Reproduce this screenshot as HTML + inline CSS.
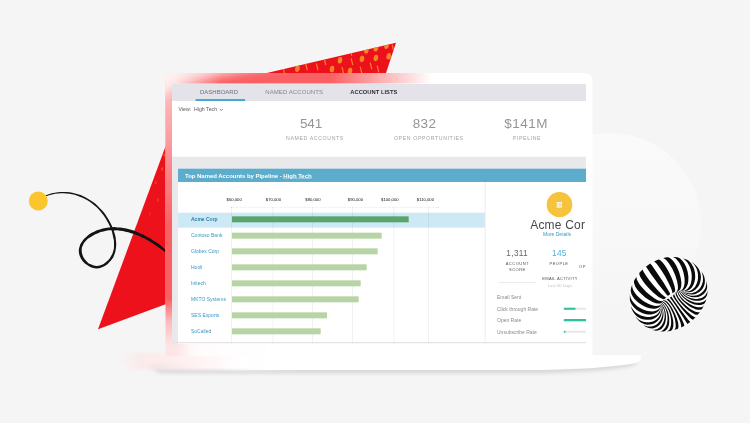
<!DOCTYPE html>
<html lang="en">
<head>
<meta charset="utf-8">
<title>Account Dashboard</title>
<style>
html,body{margin:0;padding:0;}
body{width:750px;height:423px;overflow:hidden;background:#f5f5f5;position:relative;font-family:"Liberation Sans",sans-serif;}
.abs{position:absolute;}
#screen{will-change:transform;}
#art-back,#art-front{position:absolute;left:0;top:0;width:750px;height:423px;}
#screen{position:absolute;left:172px;top:83.5px;width:414px;height:259.5px;background:#e9e9ec;overflow:hidden;}
#nav{position:absolute;left:0;top:0;width:1242px;height:51px;background:#e3e3e9;}
.tab{position:absolute;top:13.8px;font-size:18px;letter-spacing:0;color:#6f717c;white-space:nowrap;line-height:21px;}
#tab-ul{position:absolute;left:70.5px;top:45px;width:148.5px;height:6px;background:#45a9d6;}
#stats{position:absolute;left:0;top:51px;width:1242px;height:166.5px;background:#fff;}
.num{position:absolute;top:43.5px;font-size:40.5px;letter-spacing:3px;color:#959595;white-space:nowrap;line-height:48px;transform:translateX(-50%);}
.lab{position:absolute;top:100.8px;font-size:15.6px;letter-spacing:1.86px;color:#a3a3a3;white-space:nowrap;line-height:21px;transform:translateX(-50%);}
#panel{position:absolute;left:18px;top:253.5px;width:1224px;height:525px;background:#fff;}
#phead{position:absolute;left:0;top:0;width:1224px;height:40.5px;background:#5caccb;}
#phead span{position:absolute;left:21px;top:9px;font-size:18px;font-weight:bold;color:#fff;letter-spacing:-0.12px;white-space:nowrap;line-height:24px;}
.ax{position:absolute;top:85.5px;font-size:12.6px;color:#111;white-space:nowrap;line-height:18px;transform:translateX(-50%);}
.grid{position:absolute;top:114px;width:3px;height:411px;background:rgba(0,0,0,.05);}
#sel{position:absolute;left:0;top:132px;width:921px;height:45px;background:#cde9f5;}
.row{position:absolute;left:39px;font-size:15px;color:#3b98bd;white-space:nowrap;line-height:21px;}
.bar{position:absolute;left:162px;height:18px;background:#b7d4a5;}
#divider{position:absolute;left:919.5px;top:40.5px;width:3px;height:486px;background:#ececec;}

#rp{position:absolute;left:924px;top:40.5px;width:300px;height:484.5px;overflow:hidden;}
#rp span{position:absolute;white-space:nowrap;}
#avatar{position:absolute;left:182.4px;top:30.3px;width:76.2px;height:76.2px;border-radius:50%;background:#f6c33f;}
.ctr{transform:translateX(-50%);}
.sm{font-size:12.3px;letter-spacing:1.35px;color:#555;line-height:15px;}
.em{font-size:15px;color:#8a8a8a;line-height:18px;left:33px;}
.trk{position:absolute;left:233.4px;width:90px;height:6.6px;background:#e8e8e8;border-radius:3px;}
.trk i{position:absolute;left:0;top:0;height:6.6px;background:#2cc09c;border-radius:3px;display:block;}
</style>
</head>
<body>
<svg id="art-back" viewBox="0 0 750 423">
  <defs>
    <linearGradient id="cg" x1="0" y1="0" x2="0" y2="1">
      <stop offset="0" stop-color="#fafafa"/><stop offset="0.55" stop-color="#f8f8f8"/><stop offset="1" stop-color="#f5f5f5"/>
    </linearGradient>
  </defs>
  <circle cx="610" cy="224" r="91" fill="url(#cg)"/>
  <defs>
    <clipPath id="triclip"><polygon points="98,329.3 185.6,92 396,42.7 329.7,243.6"/></clipPath>
    <linearGradient id="pmg" x1="330" y1="50" x2="125" y2="235" gradientUnits="userSpaceOnUse">
      <stop offset="0" stop-color="#fff" stop-opacity="1"/><stop offset="0.45" stop-color="#fff" stop-opacity=".9"/><stop offset="1" stop-color="#fff" stop-opacity="0"/>
    </linearGradient>
    <mask id="patmask" maskUnits="userSpaceOnUse" x="0" y="0" width="750" height="423"><rect width="750" height="423" fill="url(#pmg)"/></mask>
  </defs>
  <polygon points="98,329.3 185.6,92 396,42.7 329.7,243.6" fill="#ec111a"/>
  <!--PATTERN--><g clip-path="url(#triclip)" mask="url(#patmask)"><g fill="#f6842a"><ellipse cx="340.0" cy="60.2" rx="2.3" ry="3.3" transform="rotate(8 340.0 60.2)"/><ellipse cx="362.0" cy="58.9" rx="2.3" ry="3.3" transform="rotate(8 362.0 58.9)"/><ellipse cx="375.9" cy="58.0" rx="2.3" ry="3.3" transform="rotate(8 375.9 58.0)"/><ellipse cx="388.7" cy="56.3" rx="2.3" ry="3.3" transform="rotate(8 388.7 56.3)"/><ellipse cx="297.4" cy="68.7" rx="2.3" ry="3.3" transform="rotate(8 297.4 68.7)"/><ellipse cx="332.0" cy="69.1" rx="2.3" ry="3.3" transform="rotate(8 332.0 69.1)"/><ellipse cx="366.3" cy="50.4" rx="2.3" ry="3.3" transform="rotate(8 366.3 50.4)"/><ellipse cx="375.9" cy="48.2" rx="2.3" ry="3.3" transform="rotate(8 375.9 48.2)"/><ellipse cx="386.5" cy="45.7" rx="2.3" ry="3.3" transform="rotate(8 386.5 45.7)"/><ellipse cx="350.0" cy="71.0" rx="2.3" ry="3.3" transform="rotate(8 350.0 71.0)"/><ellipse cx="162.1" cy="169.0" rx="1.2" ry="1.7"/><ellipse cx="155.8" cy="182.9" rx="1.2" ry="1.7"/><ellipse cx="164.5" cy="155.0" rx="1.2" ry="1.7"/><ellipse cx="158.0" cy="200.0" rx="1.2" ry="1.7"/><ellipse cx="150.0" cy="214.0" rx="1.2" ry="1.7"/></g><path d="M351.3 58.8l1.4 5.8M305.8 64.1l1.4 5.8M316.5 64.1l1.4 5.8M324.3 58.8l1.4 5.8M342.1 67.3l1.4 5.8M360.3 67.1l1.4 5.8M377.3 66.1l1.4 5.8M283.3 68.4l1.4 5.8M350.3 49.6l1.4 5.8M370.3 63.1l1.4 5.8M392.3 45.1l1.4 5.8" stroke="#f6842a" stroke-width="1.2" stroke-linecap="round" fill="none"/></g><!--/PATTERN-->
  <!--SQUIGGLE--><path d="M46.2 196.2 49.1 195.2 52.1 194.4 55.0 193.8 57.9 193.5 60.8 193.3 63.6 193.3 66.5 193.4 69.3 193.8 72.0 194.2 74.7 194.8 77.3 195.7 79.9 196.7 82.5 197.8 85.0 199.0 87.4 200.3 89.8 201.8 92.1 203.4 94.2 205.3 96.4 207.1 98.4 209.1 100.3 211.2 102.1 213.5 103.9 215.8 105.5 218.2 107.0 220.7 108.4 223.3 109.7 226.0 110.9 228.8 111.9 231.6 112.6 234.5 113.2 237.4 113.9 240.2 114.0 243.0 114.0 245.8 113.9 248.6 113.2 251.2 112.4 253.7 111.1 256.1 109.7 258.4 107.9 260.6 105.8 262.3 103.6 263.9 101.3 265.1 98.8 265.7 96.3 265.9 93.8 265.6 91.3 264.6 88.8 263.4 86.7 261.6 84.9 259.5 83.4 257.2 82.4 254.8 81.8 252.3 81.7 249.8 81.9 247.4 83.0 245.1 84.1 242.8 85.9 240.8 87.8 238.8 90.3 237.2 92.8 235.7 95.3 234.2 98.0 233.2 100.6 232.1 103.4 231.4 106.1 230.8 108.9 230.3 111.6 230.3 114.4 230.4 117.2 230.2 120.0 230.7 122.8 231.0 125.5 231.7 128.3 232.3 131.1 233.2 133.8 234.1 136.5 235.1 139.3 236.1 141.9 237.5 144.6 238.6 147.1 240.1 149.6 241.6 152.1 243.0 154.5 244.6 156.8 246.3 159.1 247.8 161.4 249.4 163.6 251.0 165.6 252.9 167.2 250.9 165.1 249.3 163.0 247.4 160.8 245.6 158.6 243.8 156.1 242.2 153.6 240.7 151.1 239.0 148.5 237.5 145.8 236.2 143.3 234.6 140.4 233.5 137.7 232.2 134.9 231.1 132.0 230.1 129.1 229.3 126.3 228.5 123.3 228.1 120.4 227.5 117.4 227.4 114.5 227.1 111.5 227.3 108.6 227.6 105.6 227.9 102.7 228.6 99.8 229.5 96.9 230.3 94.1 231.7 91.3 233.1 88.6 234.8 86.2 236.9 83.9 239.0 82.1 241.4 80.4 243.9 79.5 246.7 78.8 249.6 78.9 252.7 79.6 255.7 80.9 258.6 82.7 261.3 84.9 263.5 87.5 265.3 90.2 267.0 93.2 268.0 96.2 268.4 99.2 268.2 102.1 267.3 104.8 266.0 107.4 264.3 109.5 262.1 111.6 259.8 113.3 257.3 114.4 254.5 115.3 251.7 115.8 248.9 116.2 245.9 116.2 242.9 115.9 239.9 115.6 236.9 114.8 233.9 113.8 231.0 112.7 228.0 111.6 225.2 110.2 222.4 108.7 219.7 107.1 217.2 105.4 214.6 103.7 212.2 101.7 210.0 99.6 207.9 97.5 205.8 95.4 203.8 93.0 202.1 90.7 200.4 88.3 198.9 85.8 197.5 83.2 196.2 80.6 195.1 77.9 194.2 75.1 193.5 72.3 192.8 69.5 192.3 66.6 192.1 63.7 191.9 60.7 192.0 57.8 192.3 54.8 192.8 51.8 193.3 48.8 194.2 45.8 195.2Z" fill="#141414"/><!--/SQUIGGLE-->
  <circle cx="38.3" cy="201" r="9.5" fill="#fbc52d"/>

  <!--LAPTOP-->
  <defs>
    <filter id="b5" x="-20%" y="-20%" width="140%" height="140%"><feGaussianBlur stdDeviation="6"/></filter>
    <filter id="b12" x="-30%" y="-100%" width="160%" height="300%"><feGaussianBlur stdDeviation="10"/></filter>
    <filter id="b2" x="-10%" y="-40%" width="120%" height="180%"><feGaussianBlur stdDeviation="1.6"/></filter>
    <linearGradient id="bg2" x1="215" y1="0" x2="265" y2="0" gradientUnits="userSpaceOnUse"><stop offset="0" stop-color="#fff" stop-opacity="0"/><stop offset="1" stop-color="#fff"/></linearGradient>
    <linearGradient id="bzg" x1="166" y1="0" x2="275" y2="0" gradientUnits="userSpaceOnUse"><stop offset="0" stop-color="#f8393e" stop-opacity=".16"/><stop offset="1" stop-color="#f8393e" stop-opacity="0"/></linearGradient>
    <radialGradient id="lsg" cx="0" cy="0" r="1" gradientUnits="userSpaceOnUse" gradientTransform="translate(166 76) scale(55 150)"><stop offset="0" stop-color="#fff" stop-opacity=".66"/><stop offset=".45" stop-color="#fff" stop-opacity=".4"/><stop offset="1" stop-color="#fff" stop-opacity="0"/></radialGradient>
    <linearGradient id="tlg" x1="160" y1="0" x2="285" y2="0" gradientUnits="userSpaceOnUse"><stop offset="0" stop-color="#f8393e" stop-opacity=".2"/><stop offset=".35" stop-color="#f8393e" stop-opacity=".2"/><stop offset="1" stop-color="#f8393e" stop-opacity="0"/></linearGradient>
    <filter id="sh" x="-5%" y="-50%" width="110%" height="250%"><feGaussianBlur stdDeviation="2.2"/></filter>
    <clipPath id="ringclip"><path clip-rule="evenodd" d="M165.5 356V80a7 7 0 0 1 7-7H585.5a7 7 0 0 1 7 7V356ZM172 83.5H586V343H172Z"/></clipPath>
    <clipPath id="baseclip"><path d="M110 354H642V372H110Z"/></clipPath>
    <linearGradient id="fx" x1="330" y1="0" x2="432" y2="0" gradientUnits="userSpaceOnUse">
      <stop offset="0" stop-color="#fff" stop-opacity="1"/><stop offset="1" stop-color="#fff" stop-opacity="0"/>
    </linearGradient>
    <linearGradient id="fy" x1="0" y1="298" x2="0" y2="346" gradientUnits="userSpaceOnUse">
      <stop offset="0" stop-color="#fff" stop-opacity="1"/><stop offset=".5" stop-color="#fff" stop-opacity=".42"/><stop offset="1" stop-color="#fff" stop-opacity=".16"/>
    </linearGradient>
    <mask id="mx" maskUnits="userSpaceOnUse" x="0" y="0" width="750" height="423"><rect x="0" y="0" width="750" height="423" fill="url(#fx)"/></mask>
    <mask id="my" maskUnits="userSpaceOnUse" x="0" y="0" width="750" height="423"><rect x="0" y="0" width="750" height="423" fill="url(#fy)"/></mask>
    <linearGradient id="bg1" x1="117" y1="0" x2="300" y2="0" gradientUnits="userSpaceOnUse">
      <stop offset="0" stop-color="#fbe3e3" stop-opacity="0"/><stop offset="0.14" stop-color="#fde6e6" stop-opacity=".7"/><stop offset="0.45" stop-color="#fff4f4"/><stop offset="0.7" stop-color="#fff"/><stop offset="1" stop-color="#fff" stop-opacity="0"/>
    </linearGradient>
  </defs>
  <!-- base shadow -->
  <path d="M146 364H560Q610 363 636 358Q640 364 628 366.5Q595 372 540 373H160Z" fill="#000" opacity=".13" filter="url(#sh)"/>
  <!-- base -->
  <path d="M116 353H310V370H140Q119 370 116 353Z" fill="url(#bg1)" filter="url(#b2)"/>
  <path d="M215 355H641V357.5Q641 362.5 631 364Q595 369.3 540 370H215Z" fill="url(#bg2)"/>
  <!-- frame -->
  <path d="M165.5 356V80a7 7 0 0 1 7-7H585.5a7 7 0 0 1 7 7V356Z" fill="#fff"/>
  <g clip-path="url(#ringclip)"><g mask="url(#mx)"><g mask="url(#my)">
    <rect x="160" y="66" width="125" height="120" fill="url(#tlg)"/><rect x="160" y="340" width="120" height="20" fill="url(#bzg)"/><polygon points="150,370 150,100 187,82 265,66 340,52 440,52 440,110 185,110 185,370" fill="#f8393e" filter="url(#b5)" opacity=".8"/>
  </g></g><rect x="160" y="70" width="70" height="160" fill="url(#lsg)"/></g>
  <!--/LAPTOP-->
</svg>


<div id="screen">
<div id="s3" style="position:absolute;left:0;top:0;width:1242px;height:780px;transform:scale(0.333333);transform-origin:0 0">
  <div id="nav">
    <span class="tab" style="left:84px">DASHBOARD</span>
    <span class="tab" style="left:279.9px;letter-spacing:0.24px;color:#85878f">NAMED ACCOUNTS</span>
    <span class="tab" style="left:534.9px;color:#2f2f35;font-weight:bold;font-size:17.4px;letter-spacing:0">ACCOUNT LISTS</span>
    <div id="tab-ul"></div>
  </div>
  <div id="stats">
    <span class="abs" style="left:19.5px;top:16.2px;font-size:15.6px;color:#5a5a5a;line-height:18px;white-space:nowrap">View:&nbsp; High Tech</span><svg class="abs" style="left:141.9px;top:22.2px" width="12" height="9" viewBox="0 0 4 3"><path d="M.5 .7L2 2.2L3.5 .7" fill="none" stroke="#555" stroke-width=".7"/></svg>
    <span class="num" style="left:417px;letter-spacing:-0.6px">541</span><span class="lab" style="left:429px">NAMED ACCOUNTS</span>
    <span class="num" style="left:757.5px;letter-spacing:0.99px">832</span><span class="lab" style="left:770.4px">OPEN OPPORTUNITIES</span>
    <span class="num" style="left:1062.6px;letter-spacing:1.5px">$141M</span><span class="lab" style="left:1065px">PIPELINE</span>
  </div>
  <div id="panel">
    <div id="phead"><span>Top Named Accounts by Pipeline - <u>High Tech</u></span></div>
    <span class="ax" style="left:168.6px">$60,000</span>
    <span class="ax" style="left:286.2px">$70,000</span>
    <span class="ax" style="left:404.7px">$80,000</span>
    <span class="ax" style="left:532.2px">$90,000</span>
    <span class="ax" style="left:635.4px">$100,000</span>
    <span class="ax" style="left:742.2px">$110,000</span>
    <div id="sel"></div>
    <div class="abs" style="left:159px;top:115.5px;width:624px;height:0;border-top:2.4px dotted #dcdcdc"></div>
    <div class="grid" style="left:159px"></div>
    <div class="grid" style="left:282.6px"></div>
    <div class="grid" style="left:402.3px"></div>
    <div class="grid" style="left:521.7px"></div>
    <div class="grid" style="left:645.6px"></div>
    <div class="grid" style="left:749.7px"></div>
    <span class="row" style="top:140.1px;font-weight:bold;color:#2a7fa8">Acme Corp</span><div class="bar" style="top:143.7px;width:529.5px;background:#5aa56c"></div>
    <span class="row" style="top:188.1px">Contoso Bank</span><div class="bar" style="top:192.3px;width:448.5px"></div>
    <span class="row" style="top:236.1px">Globex Corp</span><div class="bar" style="top:239.7px;width:436.5px"></div>
    <span class="row" style="top:284.1px">Hooli</span><div class="bar" style="top:287.7px;width:404.4px"></div>
    <span class="row" style="top:332.1px">Initech</span><div class="bar" style="top:335.7px;width:386.4px"></div>
    <span class="row" style="top:380.1px">MKTO Systems</span><div class="bar" style="top:383.7px;width:380.4px"></div>
    <span class="row" style="top:428.1px">SES Exports</span><div class="bar" style="top:431.7px;width:284.7px"></div>
    <span class="row" style="top:476.1px">SoCalled</span><div class="bar" style="top:479.7px;width:265.8px"></div>
    <div id="divider"></div>
    <div id="rp">
      <div id="avatar"><svg width="76.2" height="76.2" viewBox="0 0 25.4 25.4"><path d="M9.9 10.5h5.6M9.9 15.1h5.6" stroke="#fff" stroke-width=".9" fill="none"/><path d="M10.5 11v3.8M11.9 11v3.8M13.3 11v3.8M14.7 11v3.8" stroke="#fff" stroke-width=".8" fill="none"/></svg></div>
      <span id="acme" style="left:132.6px;top:107.1px;width:164.7px;overflow:hidden;font-size:36px;color:#484848;line-height:42px;letter-spacing:0.6px">Acme Corp</span>
      <span class="ctr" style="left:213px;top:149.4px;font-size:15px;color:#3a9cc2;line-height:18px">More Details</span>
      <span class="ctr" style="left:93.6px;top:197.4px;font-size:24.9px;color:#666;line-height:30px;letter-spacing:0.9px">1,311</span>
      <span class="ctr" style="left:220.2px;top:197.4px;font-size:24.9px;color:#5ab0d2;line-height:30px;letter-spacing:0.9px">145</span>
      <span class="ctr sm" style="left:94.2px;top:238.5px">ACCOUNT</span>
      <span class="ctr sm" style="left:94.2px;top:256.5px">SCORE</span>
      <span class="ctr sm" style="left:219px;top:238.5px">PEOPLE</span>
      <span class="sm" style="left:279px;top:248.1px">OPPS</span>
      <div class="abs" style="left:38.1px;top:301.2px;width:112.5px;height:1.8px;background:#e2e2e2"></div>
      <span class="ctr sm" style="left:222px;top:284.4px;letter-spacing:0.9px">EMAIL ACTIVITY</span>
      <span class="ctr" style="left:222px;top:303.6px;font-size:12.6px;color:#c4c4c4;line-height:15px">Last 30 Days</span>
      <span class="em" style="top:337.8px">Email Sent</span>
      <span class="em" style="top:372.9px">Click through Rate</span><div class="trk" style="top:376.8px"><i style="width:35.7px"></i></div>
      <span class="em" style="top:406.8px">Open Rate</span><div class="trk" style="top:411px"><i style="width:78px"></i></div>
      <span class="em" style="top:441.3px">Unsubscribe Rate</span><div class="trk" style="top:445.5px"><i style="width:5.7px"></i></div>
    </div>

  </div>
</div>
</div>
<div class="abs" style="left:172px;top:342.3px;width:414px;height:.8px;background:#e3e3e3"></div>
<svg id="art-front" viewBox="0 0 750 423">
<!--TORUS--><g id="torus"><path d="M686.8 259.6 683.4 258.4 681.0 257.7 677.4 257.1 674.6 256.9 670.9 256.9 666.9 257.3 663.9 257.8 659.4 259.1 656.1 260.4 652.6 262.1 649.3 264.1 646.1 266.4 642.6 269.4 640.1 271.9 638.1 274.4 635.5 278.1 633.2 282.4 632.2 284.9 631.0 288.4 630.4 291.2 629.8 295.9 629.8 299.4 630.5 304.9 631.4 308.0 632.7 311.6 634.1 314.4 635.8 317.1 637.9 319.8 640.4 322.5 643.1 324.8 645.7 326.6 648.8 328.3 652.1 329.7 655.4 330.7 659.7 331.4 661.8 331.5 667.2 331.4 670.9 330.8 675.4 329.7 679.6 328.2 683.9 326.1 687.1 324.2 690.6 321.7 694.6 318.3 697.2 315.7 699.3 313.2 702.0 309.2 703.2 307.1 705.1 302.9 706.2 299.8 707.1 296.0 707.5 292.4 707.5 288.6 707.0 284.6 706.1 281.0 704.9 277.7 703.4 274.5 701.3 271.2 699.0 268.4 696.2 265.6 693.4 263.3 690.1 261.2ZM676.4 291.5 674.9 293.5 672.9 295.5 670.9 297.1 666.7 299.5 664.1 300.5 663.2 300.6 665.8 297.7 669.0 295.0 672.8 292.7 675.7 291.5Z" fill="#fff"/><path d="M660.7 305.6 660.6 305.7 661.2 308.6 661.1 311.2 660.4 314.0 659.6 315.7 658.2 317.7 656.9 319.0 655.3 320.2 652.9 321.4 650.7 322.0 649.1 322.3 646.2 322.3 643.3 321.7 641.5 321.1 639.9 320.2 638.3 319.2 635.7 316.8 634.8 315.6 636.8 318.6 639.3 321.3 640.9 322.5 642.9 323.6 644.7 324.2 647.3 324.7 650.2 324.6 652.9 324.0 655.0 323.0 657.3 321.3 659.2 319.2 660.5 317.0 661.3 314.8 661.8 312.0 661.6 308.7ZM666.4 299.6 667.2 299.9 667.9 300.4 670.3 303.1 672.9 306.8 675.8 311.8 678.4 317.3 680.5 322.6 681.2 325.9 681.2 326.8 680.9 327.6 684.2 325.9 684.3 325.4 683.8 323.4 680.8 317.1 676.7 309.9 673.1 304.4 670.6 301.1 668.9 299.1 668.4 298.8 668.0 298.8ZM671.4 296.6 669.8 297.8 671.9 300.3 675.9 306.1 683.0 316.9 686.3 322.2 687.2 324.1 690.3 321.9 687.8 319.2 680.0 309.0 674.3 301.1ZM674.4 294.0 673.0 295.4 673.0 295.7 673.2 296.5 674.3 298.6 677.4 303.1 681.9 308.9 686.6 314.3 690.7 318.4 692.3 319.6 693.0 319.8 695.8 317.1 695.2 317.3 694.3 317.0 691.8 315.6 687.6 312.1 683.5 308.0 679.2 302.9 676.2 298.7 674.7 295.8 674.3 294.7ZM630.0 294.0 629.8 295.9 629.9 299.8 630.5 302.3 631.8 304.7 633.8 307.3 636.1 309.5 638.7 311.3 641.6 312.7 645.1 313.9 648.1 314.4 651.0 314.4 653.0 314.0 654.7 313.6 656.4 312.7 657.3 312.1 658.6 310.9 659.4 309.8 660.0 308.6 660.3 307.7 660.5 306.4 660.6 306.4 660.5 308.6 659.9 310.5 658.6 312.7 656.9 314.4 655.6 315.2 654.2 316.0 652.2 316.6 649.8 317.0 646.8 317.0 644.3 316.6 640.9 315.6 638.4 314.3 636.0 312.7 634.2 311.0 632.4 308.8 631.0 306.3 630.5 304.8 631.7 309.0 632.9 311.6 634.8 314.3 636.5 315.9 637.8 316.9 640.5 318.4 642.7 319.2 646.0 319.8 649.3 319.8 651.8 319.4 654.7 318.2 657.1 316.5 658.9 314.5 660.0 312.4 660.5 310.6 660.7 309.5 660.7 306.9 660.5 306.1 659.9 307.7 658.8 309.0 657.5 310.0 655.9 310.7 654.6 311.1 653.0 311.4 649.3 311.3 646.5 310.7 643.6 309.8 641.0 308.6 638.0 306.7 636.2 305.2 633.7 302.7 632.0 300.5 630.7 298.0 630.1 295.7ZM678.8 290.9 679.3 292.2 680.3 294.1 681.6 295.9 683.4 297.8 685.4 299.6 687.6 301.2 689.3 302.2 691.9 303.5 694.4 304.4 696.4 304.8 698.4 305.1 700.7 305.0 702.4 304.6 703.9 303.9 704.8 303.0 705.5 301.8 706.6 298.2 706.4 298.7 705.8 299.8 704.5 301.1 702.8 302.0 700.9 302.6 699.8 302.7 696.2 302.7 693.8 302.2 690.7 301.1 687.6 299.5 684.4 297.3 681.5 294.3 680.1 292.3 679.5 290.9ZM632.2 284.8 631.4 287.0 630.8 289.5 630.8 291.5 631.4 293.9 632.9 296.7 634.5 298.9 637.1 301.5 638.9 303.1 641.5 304.8 644.7 306.5 647.0 307.5 649.7 308.3 653.4 308.8 655.1 308.7 657.1 308.3 658.4 307.7 659.7 306.8 660.7 305.4 660.6 305.2 660.8 305.0 662.0 308.1 662.6 311.4 662.6 313.3 662.2 315.7 661.3 318.6 660.4 320.3 659.1 322.1 657.5 323.7 655.8 324.9 654.6 325.6 652.8 326.2 650.6 326.6 648.6 326.6 647.4 326.5 645.0 325.7 643.4 324.9 642.5 324.3 644.6 325.9 646.1 326.9 648.7 328.0 650.2 328.3 652.2 328.4 654.4 328.0 656.8 326.9 658.5 325.7 659.9 324.4 661.2 322.6 662.2 320.7 662.9 318.7 663.4 315.8 663.5 313.0 663.0 309.7 662.1 306.9 660.9 304.7 661.1 304.3 661.8 305.2 663.6 308.9 664.2 310.8 664.6 313.2 664.7 316.5 664.5 318.1 664.0 320.3 663.3 322.4 662.2 324.4 661.2 325.9 659.6 327.5 658.2 328.5 656.7 329.2 654.6 329.7 652.8 329.7 651.3 329.4 653.9 330.2 655.6 330.7 658.0 330.6 659.5 330.1 660.5 329.5 661.4 328.9 662.7 327.6 663.9 325.8 664.8 324.0 665.3 322.5 665.9 319.2 666.0 315.9 665.5 311.9 664.3 308.3 662.8 305.7 661.4 303.8 660.3 304.9 659.8 305.2 658.3 305.8 655.7 306.0 653.1 305.6 650.7 304.8 648.2 303.8 643.7 301.2 641.7 299.8 639.0 297.5 636.5 294.9 635.0 293.0 633.7 291.0 632.6 288.5 632.2 286.8ZM636.7 276.4 635.1 278.9 634.2 280.6 633.9 281.7 634.0 282.8 634.6 284.8 635.5 286.9 637.2 289.4 638.9 291.5 642.2 294.8 645.2 297.4 649.1 300.1 652.6 301.9 655.8 303.2 657.8 303.6 660.2 303.5 661.4 303.0 661.8 302.6 661.9 302.7 661.6 303.2 662.6 304.3 663.8 305.7 664.6 307.0 665.8 309.5 667.0 313.5 667.5 316.9 667.5 320.2 667.2 322.2 666.8 324.3 666.1 326.1 665.1 327.8 663.4 329.8 662.3 330.6 661.4 331.0 660.2 331.3 658.9 331.3 663.3 331.5 664.6 331.2 666.0 330.3 667.0 329.3 668.1 327.3 668.8 325.3 669.2 323.1 669.2 317.8 668.6 314.4 668.0 312.1 666.8 309.2 665.5 306.8 663.8 304.4 661.8 302.6 662.2 302.0 663.4 302.8 665.1 304.4 666.4 306.1 667.5 308.0 668.7 310.5 669.6 312.8 670.3 315.3 670.9 318.2 671.1 320.2 671.1 324.0 670.5 327.1 670.1 328.2 669.3 329.8 668.2 330.8 667.3 331.3 666.8 331.4 670.1 331.0 671.4 330.5 672.2 329.7 672.7 328.6 673.3 326.5 673.4 323.7 673.2 320.7 672.3 316.5 671.1 312.7 670.0 310.1 668.1 306.7 665.9 303.8 664.5 302.4 662.7 301.3 663.1 300.7 664.1 301.0 665.6 301.9 667.4 303.7 668.4 304.9 670.0 307.3 671.1 309.4 672.3 311.9 673.6 315.1 675.0 319.7 675.7 324.3 675.7 326.5 675.5 328.0 674.7 329.5 674.1 330.0 677.1 329.1 677.9 328.7 678.2 328.2 678.4 327.3 678.4 325.1 678.0 322.3 676.8 318.2 675.3 314.5 673.0 309.8 671.3 306.8 669.3 303.9 667.3 301.7 665.5 300.4 664.4 300.3 661.9 301.2 660.6 301.1 658.9 300.7 656.8 299.8 654.2 298.2 649.3 294.6 646.3 291.9 644.2 289.8 641.6 286.9 639.3 284.0 637.7 281.3 637.0 279.7 636.5 277.9 636.5 276.9ZM639.6 272.6 639.3 273.2 639.3 274.0 639.6 275.2 640.5 277.2 643.0 281.2 645.5 284.4 648.4 287.7 652.9 292.2 655.9 294.8 658.6 296.9 661.6 298.6 663.3 299.2 664.1 299.2 664.5 299.0 666.3 297.3 666.1 297.3 665.2 297.0 663.9 296.1 661.7 294.2 658.0 290.6 653.4 285.3 649.3 280.2 646.4 276.3 643.7 272.1 643.0 270.6 642.7 269.4ZM649.9 263.7 646.1 266.4 646.4 267.3 650.9 274.0 658.8 284.8 665.0 292.6 666.5 294.4 667.8 295.7 668.1 295.7 670.1 294.3 670.1 293.7 669.1 291.8 663.5 282.6 656.8 272.4 651.8 265.3 650.2 263.6ZM653.9 261.5 654.2 261.5 654.8 261.9 656.4 263.4 657.8 265.2 661.5 270.5 665.1 276.3 668.5 282.7 670.9 287.8 672.2 291.5 672.3 293.0 672.2 293.2 674.5 292.0 674.7 291.8 675.1 290.9 675.1 288.9 674.5 286.0 673.2 281.9 671.6 277.8 669.3 272.9 667.2 269.1 664.6 265.1 662.4 262.3 660.6 260.5 659.4 259.7 658.4 259.5ZM681.8 258.0 683.1 258.6 684.7 259.7 687.2 262.3 688.7 264.7 690.0 267.5 690.8 270.0 691.4 272.6 691.7 275.4 691.7 278.5 691.2 281.9 690.5 284.4 689.4 286.5 687.9 288.6 686.3 289.8 684.3 290.7 682.0 290.7 683.9 292.2 685.8 293.2 687.6 293.9 689.3 294.3 690.9 294.4 693.1 294.4 695.5 293.9 697.0 293.3 699.2 292.1 700.2 291.3 701.8 289.7 703.0 288.0 704.2 285.6 704.8 282.9 704.9 279.9 704.4 277.3 703.7 275.2 702.6 273.2 700.1 269.7 700.6 270.4 701.7 272.3 702.6 275.2 703.0 278.0 702.9 281.2 702.0 284.5 700.6 287.2 699.3 288.9 697.0 291.0 695.9 291.7 693.9 292.6 691.8 293.2 690.1 293.3 688.4 293.2 686.4 292.8 684.6 292.2 682.3 290.8 682.6 290.7 683.4 291.3 685.8 292.1 687.4 292.3 689.0 292.3 690.6 292.1 692.0 291.7 693.4 291.1 695.3 289.8 697.7 287.3 698.8 285.7 699.5 284.3 700.5 281.0 700.9 278.6 700.9 276.3 700.6 274.3 700.1 272.3 699.4 270.3 698.4 268.5 697.3 266.9 695.7 265.2 693.4 263.3 691.4 262.0 693.6 264.0 694.8 265.5 696.5 268.6 697.2 270.6 697.8 273.0 698.0 275.0 698.0 278.7 697.3 281.9 696.5 284.1 695.1 286.7 692.9 289.1 691.6 290.1 689.7 291.1 687.2 291.6 684.9 291.5 683.0 291.1 683.0 290.9 685.5 291.1 687.8 290.5 690.0 289.2 691.8 287.4 693.0 285.5 693.8 284.0 694.4 282.1 695.1 279.0 695.2 276.1 694.9 272.4 694.1 269.1 693.3 267.0 691.4 263.8 690.6 262.7 689.0 261.1 687.6 260.1 684.9 258.9ZM662.6 258.2 663.7 258.3 665.3 259.3 667.1 261.0 669.0 263.4 672.2 268.6 673.8 271.9 675.4 275.8 677.1 281.3 677.9 286.1 677.9 288.4 677.6 289.7 677.2 290.7 676.4 291.4 675.6 292.6 675.5 293.6 676.0 295.6 677.6 298.4 679.3 300.9 682.6 304.8 685.5 307.7 689.0 310.7 691.7 312.6 694.9 314.4 696.4 314.8 697.6 314.8 698.0 314.6 700.4 311.6 699.3 312.2 698.2 312.3 696.4 311.9 694.8 311.4 692.5 310.2 690.2 308.9 685.9 305.6 681.5 301.3 678.5 297.4 676.8 294.1 676.5 292.9 676.5 291.5 676.8 291.2 677.3 291.2 677.6 292.8 678.8 295.6 680.5 298.1 682.2 300.2 684.2 302.1 686.8 304.3 689.7 306.4 691.5 307.4 694.0 308.6 696.0 309.4 698.4 309.8 700.0 309.8 701.5 309.4 702.3 308.6 704.1 305.3 703.2 306.3 702.6 306.7 700.6 307.3 697.6 307.2 693.9 306.2 690.4 304.6 687.2 302.6 684.4 300.4 681.8 297.8 680.5 296.2 679.3 294.4 678.7 293.1 678.0 291.1 678.1 290.9 678.8 290.7 679.4 290.3 680.1 289.6 680.6 288.6 681.2 286.4 681.4 282.8 681.0 279.6 680.1 275.4 679.0 271.8 677.6 268.4 676.2 265.5 674.3 262.5 672.5 260.2 670.6 258.5 668.9 257.5 668.0 257.3 666.4 257.3ZM671.8 256.9 673.0 257.0 674.5 257.7 675.7 258.6 677.9 260.9 679.6 263.3 681.3 266.5 682.3 269.0 683.4 272.2 684.4 277.3 684.6 279.0 684.6 282.9 684.1 285.8 683.6 287.3 683.0 288.4 682.3 289.4 681.6 290.0 680.4 290.6 680.3 290.7 680.0 290.7 681.8 293.3 683.9 295.5 686.5 297.5 690.3 299.4 693.4 300.4 696.1 300.8 699.4 300.7 702.2 300.0 703.3 299.5 704.7 298.6 706.0 297.2 707.1 295.1 707.5 292.4 707.5 289.8 707.3 291.4 706.8 292.8 705.5 294.9 704.3 296.2 702.9 297.2 700.8 298.2 699.0 298.6 697.2 298.9 694.7 298.9 692.9 298.6 691.1 298.2 688.4 297.3 686.8 296.5 684.4 294.8 681.6 292.1 680.5 290.7 681.0 290.6 683.4 293.1 685.7 294.8 688.5 296.1 691.3 296.9 693.8 297.3 695.5 297.3 698.3 296.9 700.1 296.3 701.6 295.6 703.4 294.3 705.1 292.6 706.4 290.3 706.7 289.4 707.1 287.4 707.1 285.3 706.4 282.1 705.8 280.0 706.2 281.9 706.2 284.7 705.5 287.7 704.5 289.6 703.4 291.1 701.9 292.6 700.6 293.6 699.0 294.4 697.1 295.2 695.2 295.6 693.6 295.7 691.4 295.7 689.8 295.4 687.2 294.6 685.5 293.8 683.9 292.8 681.4 290.7 682.6 290.4 684.1 289.8 684.7 289.3 686.0 287.8 687.5 284.8 687.9 283.4 688.3 281.0 688.4 276.8 688.1 274.4 687.7 272.1 686.7 268.4 685.6 265.8 684.1 263.0 682.2 260.4 680.1 258.6 679.4 258.1 677.4 257.2 674.6 256.9Z" fill="#0b0b0b" fill-rule="evenodd"/></g><!--/TORUS-->
</svg>
</body>
</html>
